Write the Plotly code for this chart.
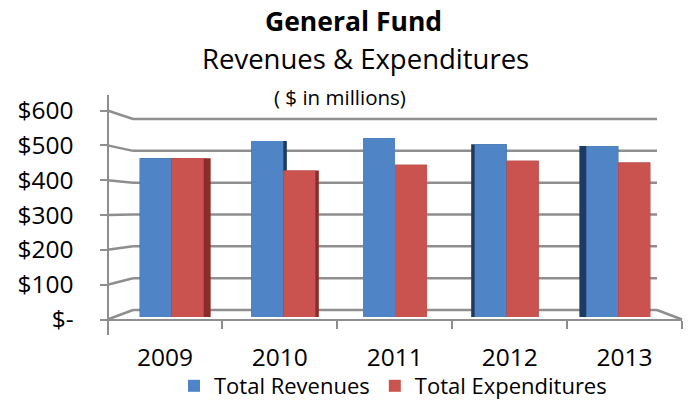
import plotly.graph_objects as go

# ---- data ($ in millions) ----
years = ["2009", "2010", "2011", "2012", "2013"]
revenues = [466, 517, 526, 507, 502]
expenditures = [466, 430, 447, 459, 454]
y_ticks = [0, 100, 200, 300, 400, 500, 600]
y_tick_labels = ["$-", "$100", "$200", "$300", "$400", "$500", "$600"]

W, H = 688, 402
FONT = "Open Sans"
GRID = "#8e8e8e"
BLUE, RED = "#4f84c6", "#cb534f"
BLUE_SIDE, RED_SIDE = "#1d3a60", "#8a2d2a"


def fx(p):
    return p / W


def fy(p):
    return 1 - p / H


# vertical extent of the plotting band (pixels from top)
TOP, BOT = 95, 335

# pseudo-3D depth planes: value v sits at pixel base - scale * v
FRONT = (319.5, 0.3483)   # front edge of the side wall
BARS = (317.0, 0.3405)    # bar faces
BACK = (310.0, 0.3183)    # back wall


def vrange(plane):
    base, scale = plane
    return [(base - BOT) / scale, (base - TOP) / scale]


def ppx(plane, v):
    base, scale = plane
    return base - scale * v


ydom = [fy(BOT), fy(TOP)]

# bar geometry in category units
bw = 0.2866
depth = 0.031
n = len(years)
mid = (n - 1) / 2
side = [depth * abs(i - mid) for i in range(n)]
left_side = [i < mid for i in range(n)]

blue_side_off = [-bw if l else -bw - s for s, l in zip(side, left_side)]
red_side_off = [0 if l else -s for s, l in zip(side, left_side)]
side_w = [bw + s for s in side]

fig = go.Figure()

# dark side faces (drawn first, behind the front faces)
fig.add_trace(go.Bar(x=years, y=revenues, offset=blue_side_off, width=side_w,
                     marker=dict(color=BLUE_SIDE, line_width=0),
                     showlegend=False, hoverinfo="skip"))
fig.add_trace(go.Bar(x=years, y=expenditures, offset=red_side_off, width=side_w,
                     marker=dict(color=RED_SIDE, line_width=0),
                     showlegend=False, hoverinfo="skip"))
# front faces
fig.add_trace(go.Bar(x=years, y=revenues, offset=-bw, width=bw,
                     name="Total Revenues", marker=dict(color=BLUE, line_width=0)))
fig.add_trace(go.Bar(x=years, y=expenditures, offset=0, width=bw,
                     name="Total Expenditures", marker=dict(color=RED, line_width=0)))

# carrier for the front value/category axes
fig.add_trace(go.Scatter(x=[], y=[], xaxis="x2", yaxis="y2", showlegend=False, hoverinfo="skip"))

X_FRONT_L, X_FRONT_R = 107.5, 682
X_BACK_L, X_BACK_R = 133, 657

line_style = dict(color=GRID, width=2.5)
shapes = []
for v in y_ticks:
    # side wall: front edge to back wall
    shapes.append(dict(type="line", layer="below", xref="paper", yref="paper",
                       x0=fx(X_FRONT_L), y0=fy(ppx(FRONT, v)),
                       x1=fx(X_BACK_L), y1=fy(ppx(BACK, v)), line=line_style))
    # back wall gridline
    shapes.append(dict(type="line", layer="below", xref="paper", yref="paper",
                       x0=fx(X_BACK_L), y0=fy(ppx(BACK, v)),
                       x1=fx(X_BACK_R), y1=fy(ppx(BACK, v)), line=line_style))
# floor edge on the right
shapes.append(dict(type="line", layer="below", xref="paper", yref="paper",
                   x0=fx(X_BACK_R), y0=fy(ppx(BACK, 0)),
                   x1=fx(X_FRONT_R), y1=fy(ppx(FRONT, 0)), line=line_style))

fig.update_layout(
    width=W, height=H, template="none",
    paper_bgcolor="white", plot_bgcolor="rgba(0,0,0,0)",
    margin=dict(l=0, r=0, t=0, b=0, autoexpand=False),
    barmode="overlay",
    font=dict(family=FONT, color="black"),
    xaxis=dict(domain=[fx(115.9), fx(674.1)], type="category", range=[-0.5, n - 0.5],
               visible=False, anchor="y"),
    yaxis=dict(domain=ydom, range=vrange(BARS), visible=False, anchor="x"),
    xaxis2=dict(domain=[fx(X_FRONT_L), fx(X_FRONT_R)], range=[-0.5, n - 0.5],
                anchor="free", position=fy(ppx(FRONT, 0)),
                showline=True, linecolor=GRID, linewidth=2,
                showgrid=False, zeroline=False,
                tickmode="array", tickvals=list(range(n)), ticktext=years,
                ticks="", ticklabelstandoff=16,
                tickfont=dict(family=FONT, size=24.5, color="black"),
                minor=dict(tickmode="array", tickvals=[i - 0.5 for i in range(n + 1)],
                           ticks="outside", ticklen=8, tickwidth=2, tickcolor=GRID,
                           showgrid=False)),
    yaxis2=dict(domain=ydom, range=vrange(FRONT), anchor="free", position=fx(X_FRONT_L),
                side="left", showline=True, linecolor=GRID, linewidth=2,
                showgrid=False, zeroline=False,
                tickmode="array", tickvals=y_ticks, ticktext=y_tick_labels,
                ticks="outside", ticklen=7, tickwidth=2, tickcolor=GRID,
                ticklabelstandoff=21,
                tickfont=dict(family=FONT, size=24.5, color="black")),
    legend=dict(orientation="h", x=fx(174), xanchor="left", y=fy(386), yanchor="middle",
                font=dict(family=FONT, size=22, color="black"),
                bgcolor="rgba(0,0,0,0)", itemwidth=30),
    shapes=shapes,
    annotations=[
        dict(text="<b>General Fund</b>", x=fx(353.5), y=fy(21), xref="paper", yref="paper",
             showarrow=False, xanchor="center", yanchor="middle",
             font=dict(family=FONT, size=26.5, color="black")),
        dict(text="Revenues & Expenditures", x=fx(365.5), y=fy(59), xref="paper", yref="paper",
             showarrow=False, xanchor="center", yanchor="middle",
             font=dict(family=FONT, size=27.5, color="black")),
        dict(text="( $ in millions)", x=fx(340), y=fy(97), xref="paper", yref="paper",
             showarrow=False, xanchor="center", yanchor="middle",
             font=dict(family=FONT, size=20.5, color="black")),
    ],
)

fig.write_html("out.html")
